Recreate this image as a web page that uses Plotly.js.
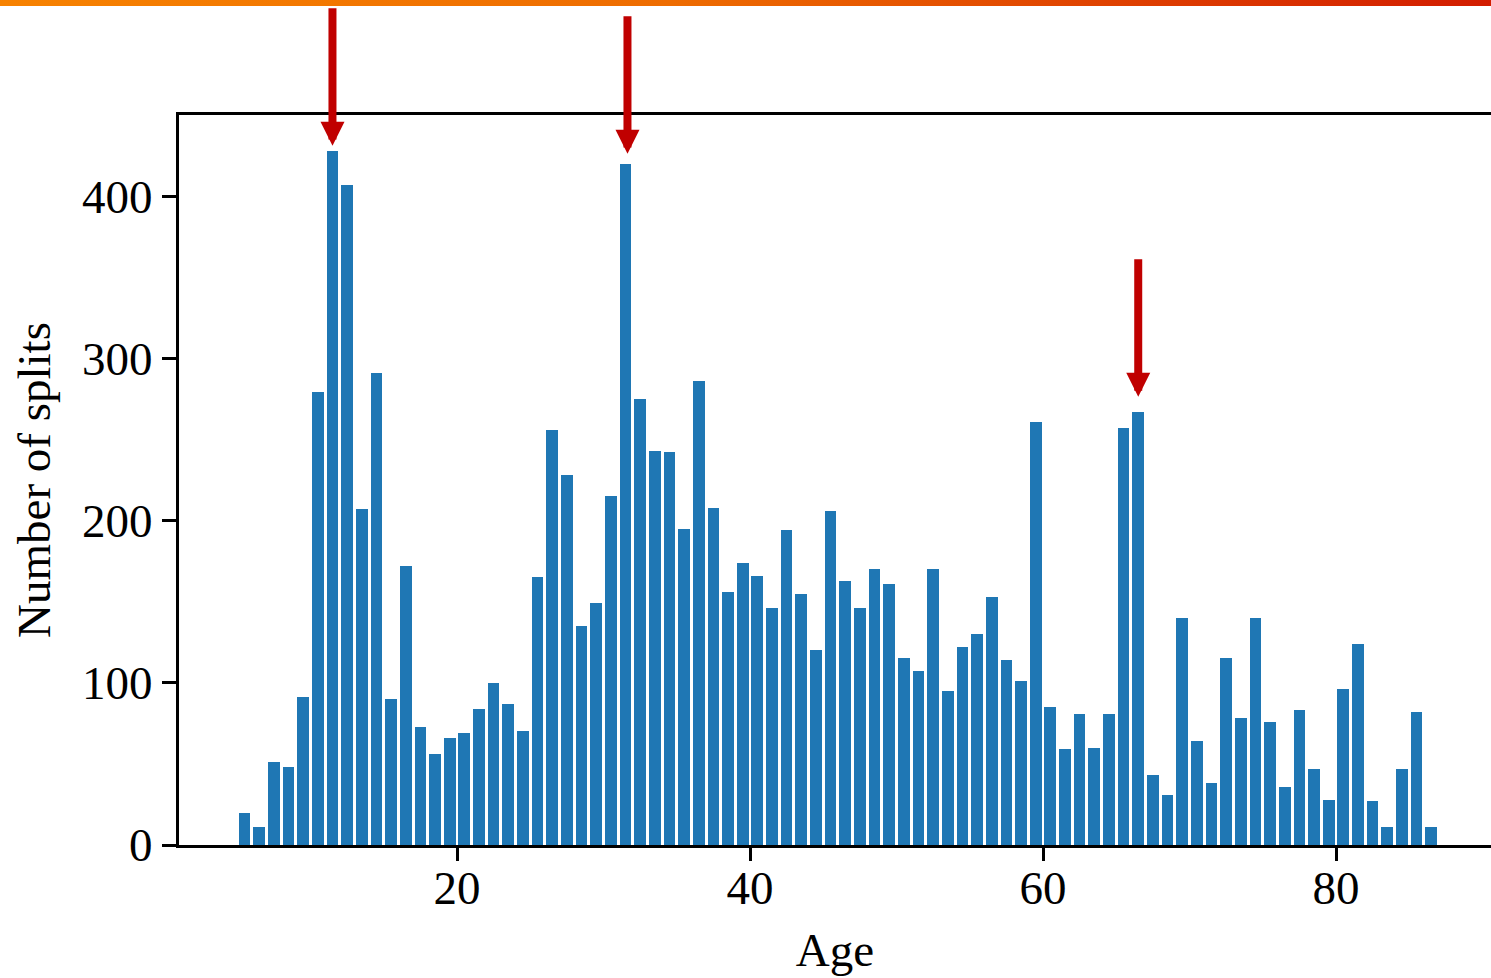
<!DOCTYPE html>
<html>
<head>
<meta charset="utf-8">
<script src="https://cdn.plot.ly/plotly-3.0.1.min.js"></script>
<style>
  html, body { margin: 0; padding: 0; background: #ffffff; overflow: hidden; }
  #chart { width: 1491px; height: 978px; }
  #topbar { position: absolute; left: 0; top: 0; width: 1491px; height: 6px;
            background: linear-gradient(to right, #f78200, #ee6c00 45%, #d21c00); z-index: 10; }
</style>
</head>
<body>
<div id="topbar"></div>
<div id="chart"></div>
<script>
// Age bins (left edge of each one-year bin)
const ages = [5,6,7,8,9,10,11,12,13,14,15,16,17,18,19,20,21,22,23,24,25,26,27,28,29,30,31,32,33,34,35,36,37,38,39,40,41,42,43,44,45,46,47,48,49,50,51,52,53,54,55,56,57,58,59,60,61,62,63,64,65,66,67,68,69,70,71,72,73,74,75,76,77,78,79,80,81,82,83,84,85,86];
// Number of splits per age bin
const counts = [20,11,51,48,91,279,428,407,207,291,90,172,73,56,66,69,84,100,87,70,165,256,228,135,149,215,420,275,243,242,195,286,208,156,174,166,146,194,155,120,206,163,146,170,161,115,107,170,95,122,130,153,114,101,261,85,59,81,60,81,257,267,43,31,140,64,38,115,78,140,76,36,83,47,28,96,124,27,11,47,82,11];
// Peaks highlighted with arrows
const peakAges = [11, 31, 66];
const xTicks = [20, 40, 60, 80];
const yTicks = [0, 100, 200, 300, 400];

const font = {family: 'Liberation Serif, Times New Roman, serif', size: 47, color: '#000'};

const centers = ages.map(a => a + 0.5);

const trace = {
  type: 'bar',
  x: centers,
  y: counts,
  width: 0.8,
  marker: {color: '#1f77b4', line: {width: 0}},
  hoverinfo: 'skip'
};

const arrowStyle = [
  {yshift: 5, xshift: 0},
  {yshift: 10, xshift: 2},
  {yshift: 15, xshift: 0}
];

const annotations = peakAges.map((a, i) => ({
  x: a + 0.5,
  y: counts[ages.indexOf(a)],
  xref: 'x', yref: 'y',
  text: '',
  showarrow: true,
  arrowhead: 2,
  arrowsize: 0.6,
  arrowwidth: 8,
  arrowcolor: '#c00000',
  ax: 0, ay: -139,
  standoff: 0,
  xshift: arrowStyle[i].xshift,
  yshift: arrowStyle[i].yshift
}));

const layout = {
  width: 1491, height: 978,
  margin: {l: 179, r: 0, t: 115, b: 133, pad: 0},
  paper_bgcolor: '#ffffff',
  plot_bgcolor: '#ffffff',
  font: font,
  showlegend: false,
  bargap: 0,
  xaxis: {
    range: [1.024, 90.58],
    tickvals: xTicks,
    ticktext: xTicks.map(String),
    ticks: 'outside', ticklen: 13, tickwidth: 3, tickcolor: '#000',
    ticklabelstandoff: -13,
    showline: true, linewidth: 3, linecolor: '#000', mirror: true,
    showgrid: false, zeroline: false,
    tickfont: font,
    title: {text: 'Age', font: font, standoff: 20}
  },
  yaxis: {
    range: [0, 450],
    tickvals: yTicks,
    ticktext: yTicks.map(String),
    ticks: 'outside', ticklen: 14, tickwidth: 3, tickcolor: '#000',
    showline: true, linewidth: 3, linecolor: '#000', mirror: false,
    showgrid: false, zeroline: false,
    tickfont: font,
    title: {text: 'Number of splits', font: font, standoff: 17}
  },
  annotations: annotations
};

Plotly.newPlot('chart', [trace], layout, {displayModeBar: false, staticPlot: true});
</script>
</body>
</html>
